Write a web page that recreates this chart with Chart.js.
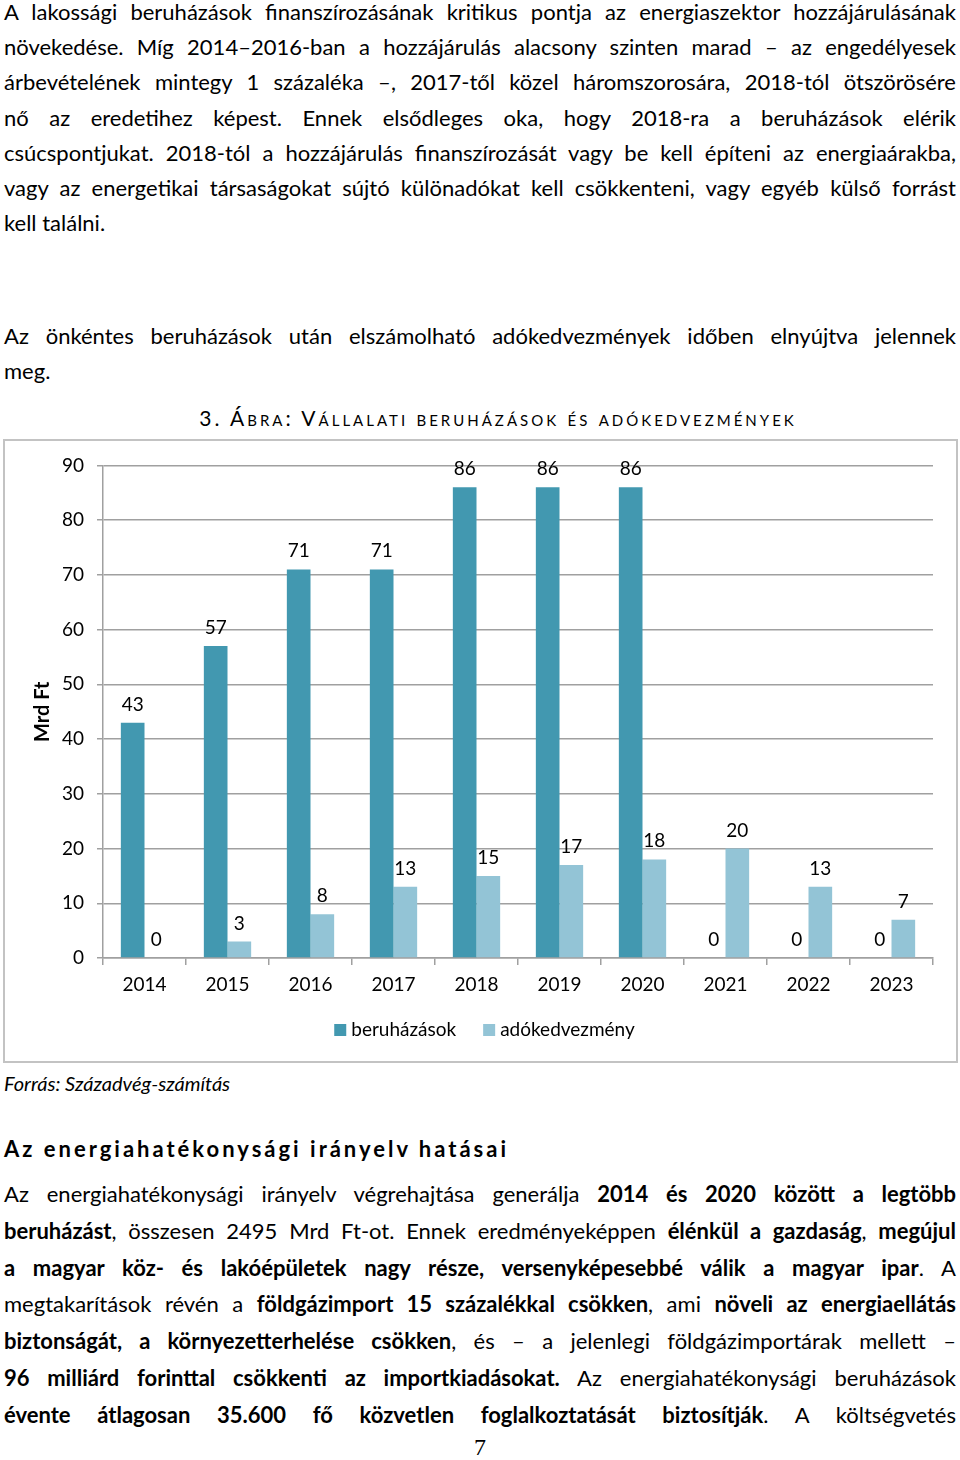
<!DOCTYPE html>
<html>
<head>
<meta charset="utf-8">
<script src="https://cdn.jsdelivr.net/npm/chart.js@4/dist/chart.umd.min.js"></script>
<style>
  html, body { margin: 0; padding: 0; background: #fff; }
  body { width: 960px; height: 1460px; position: relative; overflow: hidden; color: #000; }
  .ln {
    position: absolute; left: 4px; width: 952px; height: 30px; line-height: 30px;
    font-family: "Lato", sans-serif; font-size: 22px;
    text-align: justify; text-align-last: justify; white-space: nowrap;
  }
  .ln.last { text-align: left; text-align-last: left; }
  .ln b { font-weight: bold; }
  #figtitle {
    position: absolute; left: 0; width: 996px; top: 405px; text-align: center;
    font-family: "Lato", sans-serif; font-size: 21px;
    font-variant: small-caps; letter-spacing: 3px;
  }
  #frame {
    position: absolute; left: 3px; top: 439px; width: 955px; height: 624px;
    border: 2px solid #c3c3c3; box-sizing: border-box;
  }
  #box { position: relative; width: 951px; height: 620px; }
  #source {
    position: absolute; left: 4px; top: 1071px; font-family: "Lato", sans-serif;
    font-size: 20px; font-style: italic;
  }
  #heading {
    position: absolute; left: 4px; top: 1135px; font-family: "Lato", sans-serif;
    font-size: 22px; font-weight: bold; letter-spacing: 3px;
  }
  #pagenum {
    position: absolute; left: 0; width: 960px; top: 1434px; text-align: center;
    font-family: "Liberation Serif", serif; font-size: 24px;
  }
</style>
</head>
<body>

<div class="ln" style="top:-3px">A lakossági beruházások finanszírozásának kritikus pontja az energiaszektor hozzájárulásának</div>
<div class="ln" style="top:32px">növekedése. Míg 2014–2016-ban a hozzájárulás alacsony szinten marad – az engedélyesek</div>
<div class="ln" style="top:67px">árbevételének mintegy 1 százaléka –, 2017-től közel háromszorosára, 2018-tól ötszörösére</div>
<div class="ln" style="top:103px">nő az eredetihez képest. Ennek elsődleges oka, hogy 2018-ra a beruházások elérik</div>
<div class="ln" style="top:138px">csúcspontjukat. 2018-tól a hozzájárulás finanszírozását vagy be kell építeni az energiaárakba,</div>
<div class="ln" style="top:173px">vagy az energetikai társaságokat sújtó különadókat kell csökkenteni, vagy egyéb külső forrást</div>
<div class="ln last" style="top:208px">kell találni.</div>

<div class="ln" style="top:321px">Az önkéntes beruházások után elszámolható adókedvezmények időben elnyújtva jelennek</div>
<div class="ln last" style="top:356px">meg.</div>

<div id="figtitle">3. Ábra: Vállalati beruházások és adókedvezmények</div>

<div id="frame"><div id="box"><canvas id="chart"></canvas></div></div>

<div id="source">Forrás: Századvég-számítás</div>

<div id="heading">Az energiahatékonysági irányelv hatásai</div>

<div class="ln" style="top:1179px">Az energiahatékonysági irányelv végrehajtása generálja <b>2014 és 2020 között a legtöbb</b></div>
<div class="ln" style="top:1216px"><b>beruházást</b>, összesen 2495 Mrd Ft-ot. Ennek eredményeképpen <b>élénkül a gazdaság</b>, <b>megújul</b></div>
<div class="ln" style="top:1253px"><b>a magyar köz- és lakóépületek nagy része, versenyképesebbé válik a magyar ipar</b>. A</div>
<div class="ln" style="top:1289px">megtakarítások révén a <b>földgázimport 15 százalékkal csökken</b>, ami <b>növeli az energiaellátás</b></div>
<div class="ln" style="top:1326px"><b>biztonságát, a környezetterhelése csökken</b>, és – a jelenlegi földgázimportárak mellett –</div>
<div class="ln" style="top:1363px"><b>96 milliárd forinttal csökkenti az importkiadásokat.</b> Az energiahatékonysági beruházások</div>
<div class="ln" style="top:1400px"><b>évente átlagosan 35.600 fő közvetlen foglalkoztatását biztosítják</b>. A költségvetés</div>

<div id="pagenum">7</div>

<script>
// adatok
const years = ['2014', '2015', '2016', '2017', '2018', '2019', '2020', '2021', '2022', '2023'];
const beruhazasok = [43, 57, 71, 71, 86, 86, 86, 0, 0, 0];
const adokedvezmeny = [0, 3, 8, 13, 15, 17, 18, 20, 13, 7];
const yTicks = [0, 10, 20, 30, 40, 50, 60, 70, 80, 90];

const FONT = 'Lato';
const gridGray = '#a0a0a0';

// ertekek az oszlopok folott
const valueLabels = {
  id: 'valueLabels',
  afterDatasetsDraw(chart) {
    const ctx = chart.ctx;
    ctx.save();
    ctx.font = '19px ' + FONT;
    ctx.fillStyle = '#000';
    ctx.textAlign = 'center';
    ctx.textBaseline = 'alphabetic';
    chart.data.datasets.forEach((ds, i) => {
      chart.getDatasetMeta(i).data.forEach((bar, j) => {
        ctx.fillText(String(ds.data[j]), bar.x, bar.y - 12);
      });
    });
    ctx.restore();
  }
};

// jelmagyarazat kezzel, hogy a rajzterulet ne mozduljon
const bottomLegend = {
  id: 'bottomLegend',
  afterDraw(chart) {
    const ctx = chart.ctx;
    ctx.save();
    ctx.font = '19px ' + FONT;
    ctx.textBaseline = 'middle';
    const box = 12, gap = 5, itemGap = 27;
    const items = chart.data.datasets.map(ds => ({ label: ds.label, color: ds.backgroundColor, w: ctx.measureText(ds.label).width }));
    let total = items.reduce((s, it) => s + box + gap + it.w, 0) + itemGap * (items.length - 1);
    let x = chart.width / 2 + 4 - total / 2;
    const y = chart.height - 31;
    items.forEach(it => {
      ctx.fillStyle = it.color;
      ctx.fillRect(x, y - box / 2, box, box);
      ctx.fillStyle = '#000';
      ctx.fillText(it.label, x + box + gap, y);
      x += box + gap + it.w + itemGap;
    });
    ctx.restore();
  }
};

new Chart(document.getElementById('chart'), {
  type: 'bar',
  data: {
    labels: years,
    datasets: [
      {
        label: 'beruházások',
        data: beruhazasok,
        backgroundColor: '#4298b0',
        barPercentage: 1,
        categoryPercentage: 0.57
      },
      {
        label: 'adókedvezmény',
        data: adokedvezmeny,
        backgroundColor: '#93c4d6',
        barPercentage: 1,
        categoryPercentage: 0.57
      }
    ]
  },
  options: {
    responsive: true,
    maintainAspectRatio: false,
    animation: false,
    layout: { padding: { top: 17, right: 23, left: 0, bottom: 0 } },
    plugins: {
      legend: { display: false },
      tooltip: { enabled: false }
    },
    scales: {
      x: {
        grid: { drawOnChartArea: false, drawTicks: true, tickLength: 7, color: gridGray, lineWidth: 1.5 },
        border: { display: true, color: gridGray, width: 1.5 },
        ticks: { color: '#000', font: { family: FONT, size: 19 }, padding: 8 },
        afterFit(scale) { scale.height = 103; }
      },
      y: {
        min: 0,
        max: 90,
        afterBuildTicks(scale) { scale.ticks = yTicks.map(v => ({ value: v })); },
        grid: { color: gridGray, lineWidth: 1.5, tickLength: 6 },
        border: { display: true, color: gridGray, width: 1.5 },
        ticks: { color: '#000', font: { family: FONT, size: 19 }, padding: 13 },
        title: {
          display: true,
          text: 'Mrd Ft',
          color: '#000',
          font: { family: FONT, size: 20, weight: 'bold' },
          padding: { top: 26, bottom: 0 }
        },
        afterFit(scale) { scale.width = 98; }
      }
    }
  },
  plugins: [valueLabels, bottomLegend]
});
</script>
</body>
</html>
